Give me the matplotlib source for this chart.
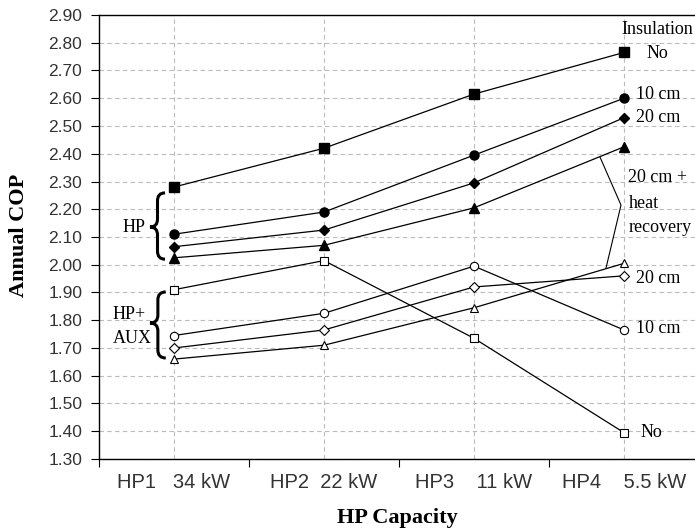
import matplotlib.pyplot as plt
import numpy as np
from matplotlib.path import Path
from matplotlib.patches import PathPatch

categories = ["HP1   34 kW", "HP2  22 kW", "HP3    11 kW", "HP4    5.5 kW"]

# HP only (filled markers)
hp_no = [2.28, 2.42, 2.615, 2.765]
hp_10 = [2.11, 2.19, 2.395, 2.60]
hp_20 = [2.065, 2.125, 2.295, 2.53]
hp_20hr = [2.025, 2.07, 2.205, 2.425]

# HP + auxiliary (open markers)
aux_no = [1.91, 2.015, 1.735, 1.395]
aux_10 = [1.745, 1.825, 1.995, 1.765]
aux_20 = [1.70, 1.765, 1.92, 1.96]
aux_20hr = [1.66, 1.71, 1.845, 2.005]


def brace(ax, x_tip, x_end, y0, y1, ymid):
    # left-opening curly brace drawn as a path in data coords
    xm = (x_tip + x_end) / 2
    d = (y1 - y0) * 0.12
    verts = [(x_end, y1), (xm, y1), (xm, y1 - d), (xm, ymid + d),
             (xm, ymid), (x_tip, ymid), (xm, ymid), (xm, ymid - d),
             (xm, y0 + d), (xm, y0), (x_end, y0)]
    codes = [Path.MOVETO, Path.CURVE3, Path.CURVE3, Path.LINETO,
             Path.CURVE3, Path.CURVE3, Path.CURVE3, Path.CURVE3,
             Path.LINETO, Path.CURVE3, Path.CURVE3]
    ax.add_patch(PathPatch(Path(verts, codes), fill=False, lw=2.2,
                           edgecolor="black", clip_on=False, zorder=4))


fig = plt.figure(figsize=(6.95, 5.31), dpi=100)
ax = fig.add_axes([99 / 695, 1 - 459 / 531, 596 / 695, 444 / 531])

x = np.arange(len(categories))
serif = "Liberation Serif"

for vals, m in [(hp_no, "s"), (hp_10, "o"), (hp_20, "D"), (hp_20hr, "^")]:
    ms = 5.5 if m == "D" else 6.5
    ax.plot(x, vals, color="black", lw=0.9, marker=m, ms=ms,
            mfc="black", mec="black", zorder=3)
for vals, m in [(aux_no, "s"), (aux_10, "o"), (aux_20, "D"), (aux_20hr, "^")]:
    ms = 5.0 if m == "D" else 6.0
    ax.plot(x, vals, color="black", lw=0.9, marker=m, ms=ms,
            mfc="white", mec="black", mew=0.8, zorder=3)

ax.set_xlim(-0.5, -0.5 + 596 / 150)
ax.set_ylim(1.30, 2.90)
ax.set_yticks(np.arange(1.30, 2.91, 0.10))
ax.yaxis.set_major_formatter(plt.FormatStrFormatter("%.2f"))
ax.set_xticks(x - 0.5)
ax.set_xticklabels([])
ax.set_xticks(x, minor=True)
ax.set_xticklabels(categories, minor=True, fontsize=14.5, family="Liberation Sans",
                   color="#333333")
ax.tick_params(axis="x", which="minor", length=0, pad=10)
ax.tick_params(axis="x", which="major", length=6, direction="out")
ax.tick_params(axis="y", length=6, direction="out", labelsize=12.5,
               labelcolor="#333333", pad=6)
for lab in ax.get_yticklabels():
    lab.set_family("Liberation Sans")

ax.grid(axis="y", which="major", ls=(0, (4, 3)), color="#bbbbbb", lw=0.8)
ax.grid(axis="x", which="minor", ls=(0, (4, 3)), color="#bbbbbb", lw=0.8)
ax.set_axisbelow(True)
ax.spines["right"].set_visible(False)
for s in ["left", "bottom", "top"]:
    ax.spines[s].set_linewidth(1.0)

ax.set_ylabel("Annual COP", family=serif, fontweight="bold", fontsize=16, va="center")
ax.yaxis.set_label_coords(-(99 - 19) / 596, (459 - 235) / 444)
ax.set_xlabel("HP Capacity", family=serif, fontweight="bold", fontsize=16, va="center")
ax.xaxis.set_label_coords(0.5, -(518 - 459) / 444)

# right-hand labels
fs = 13
ax.text(3.22, 2.846, "Insulation", family=serif, fontsize=fs, ha="center", va="center")
ax.text(3.22, 2.763, "No", family=serif, fontsize=fs, ha="center", va="center")
ax.text(3.08, 2.615, "10 cm", family=serif, fontsize=fs, ha="left", va="center")
ax.text(3.08, 2.529, "20 cm", family=serif, fontsize=fs, ha="left", va="center")
ax.text(3.03, 2.313, "20 cm +", family=serif, fontsize=fs, ha="left", va="center")
ax.text(3.03, 2.222, "heat", family=serif, fontsize=fs, ha="left", va="center")
ax.text(3.03, 2.136, "recovery", family=serif, fontsize=fs, ha="left", va="center")
ax.text(3.08, 1.952, "20 cm", family=serif, fontsize=fs, ha="left", va="center")
ax.text(3.08, 1.772, "10 cm", family=serif, fontsize=fs, ha="left", va="center")
ax.text(3.11, 1.397, "No", family=serif, fontsize=fs, ha="left", va="center")

# pointer lines to the heat recovery curves
ax.plot([2.84, 2.98, 2.88], [2.388, 2.215, 1.988], color="black", lw=0.8)

# group braces and labels
brace(ax, -0.16, -0.06, 2.02, 2.259, 2.136)
brace(ax, -0.16, -0.055, 1.664, 1.902, 1.79)
ax.text(-0.267, 2.136, "HP", family=serif, fontsize=fs, ha="center", va="center")
ax.text(-0.30, 1.819, "HP+", family=serif, fontsize=fs, ha="center", va="center")
ax.text(-0.28, 1.736, "AUX", family=serif, fontsize=fs, ha="center", va="center")

fig.savefig("out.png", dpi=100)
